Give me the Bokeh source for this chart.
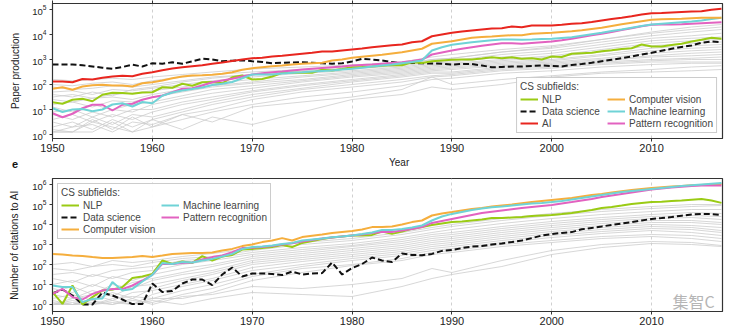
from bokeh.plotting import figure
from bokeh.models import (Range1d, FixedTicker, LogTickFormatter, LinearAxis,
                          Legend, LegendItem, Label, Div)
from bokeh.layouts import column
from bokeh.embed import file_html
from bokeh.resources import INLINE

years = list(range(1950, 2018))
decade_ticks = [1950, 1960, 1970, 1980, 1990, 2000, 2010]

# ---------------- Panel d: paper production (log10 of count) ----------------
top_ai = [2.12, 2.12, 2.09, 2.22, 2.20, 2.27, 2.32, 2.35, 2.33, 2.43,
          2.49, 2.57, 2.64, 2.69, 2.73, 2.77, 2.83, 2.88, 2.94, 3.00,
          3.05, 3.07, 3.12, 3.15, 3.19, 3.23, 3.27, 3.32, 3.32, 3.36,
          3.40, 3.44, 3.49, 3.53, 3.57, 3.60, 3.69, 3.73, 3.93, 4.00,
          4.07, 4.12, 4.16, 4.20, 4.24, 4.25, 4.32, 4.29, 4.36, 4.36,
          4.36, 4.39, 4.43, 4.45, 4.50, 4.56, 4.62, 4.67, 4.73, 4.80,
          4.85, 4.86, 4.88, 4.90, 4.92, 4.93, 4.99, 5.03]
top_cv = [1.83, 1.89, 1.79, 1.92, 1.97, 1.99, 1.96, 1.96, 1.92, 2.05,
          2.09, 2.16, 2.25, 2.32, 2.36, 2.37, 2.39, 2.43, 2.49, 2.59,
          2.65, 2.69, 2.73, 2.76, 2.80, 2.83, 2.85, 2.87, 2.96, 3.00,
          3.07, 3.11, 3.15, 3.19, 3.24, 3.29, 3.36, 3.43, 3.63, 3.68,
          3.73, 3.80, 3.87, 3.90, 3.92, 3.95, 3.97, 3.97, 4.03, 4.05,
          4.07, 4.10, 4.13, 4.17, 4.22, 4.27, 4.34, 4.41, 4.47, 4.53,
          4.59, 4.61, 4.62, 4.63, 4.65, 4.67, 4.67, 4.67]
top_ml = [1.05, 0.90, 1.00, 1.02, 0.93, 1.00, 1.20, 1.25, 1.12, 1.30,
          1.25, 1.55, 1.68, 1.76, 1.82, 1.88, 1.98, 2.03, 2.10, 2.25,
          2.40, 2.40, 2.40, 2.44, 2.47, 2.49, 2.52, 2.54, 2.56, 2.60,
          2.63, 2.67, 2.72, 2.76, 2.80, 2.85, 2.90, 2.96, 3.36, 3.49,
          3.59, 3.64, 3.69, 3.73, 3.77, 3.80, 3.80, 3.79, 3.80, 3.82,
          3.83, 3.86, 3.89, 3.95, 4.01, 4.07, 4.14, 4.20, 4.27, 4.34,
          4.40, 4.43, 4.46, 4.49, 4.52, 4.56, 4.62, 4.67]
top_pr = [0.85, 0.69, 0.83, 1.05, 1.19, 1.19, 0.96, 1.19, 1.23, 1.39,
          1.49, 1.56, 1.69, 1.83, 1.85, 1.96, 2.09, 2.16, 2.23, 2.32,
          2.40, 2.45, 2.49, 2.52, 2.56, 2.60, 2.63, 2.66, 2.69, 2.72,
          2.76, 2.78, 2.80, 2.83, 2.86, 2.89, 2.94, 3.00, 3.20, 3.28,
          3.36, 3.43, 3.49, 3.55, 3.60, 3.65, 3.65, 3.63, 3.66, 3.69,
          3.72, 3.77, 3.83, 3.90, 3.97, 4.03, 4.10, 4.18, 4.25, 4.33,
          4.39, 4.40, 4.40, 4.41, 4.43, 4.45, 4.47, 4.49]
top_nlp = [1.29, 1.23, 1.39, 1.43, 1.33, 1.59, 1.67, 1.66, 1.63, 1.68,
           1.69, 1.89, 1.87, 2.03, 1.95, 2.09, 2.10, 2.05, 2.29, 2.36,
           2.20, 2.22, 2.32, 2.47, 2.47, 2.47, 2.47, 2.59, 2.56, 2.62,
           2.69, 2.70, 2.72, 2.75, 2.78, 2.77, 2.89, 2.86, 2.93, 2.96,
           2.99, 3.00, 3.00, 3.04, 3.09, 3.05, 3.09, 3.03, 3.05, 3.00,
           3.12, 3.10, 3.23, 3.25, 3.27, 3.33, 3.37, 3.42, 3.45, 3.60,
           3.52, 3.52, 3.58, 3.63, 3.72, 3.79, 3.87, 3.83]
top_ds = [2.80, 2.80, 2.80, 2.77, 2.72, 2.67, 2.63, 2.70, 2.79, 2.72,
          2.85, 2.83, 2.89, 2.83, 2.93, 3.03, 3.00, 2.93, 2.95, 2.97,
          2.93, 2.90, 2.85, 2.87, 2.88, 2.89, 2.87, 2.85, 2.83, 2.85,
          2.92, 3.03, 3.00, 2.96, 2.90, 2.85, 2.86, 2.85, 2.84, 2.83,
          2.80, 2.82, 2.82, 2.76, 2.69, 2.70, 2.72, 2.72, 2.74, 2.76,
          2.74, 2.72, 2.78, 2.82, 2.87, 2.93, 2.99, 3.05, 3.12, 3.20,
          3.27, 3.35, 3.43, 3.50, 3.56, 3.67, 3.72, 3.69]

# other CS subfields (grey), sampled years
gray_years = [1950, 1952, 1954, 1956, 1958, 1960, 1963, 1966, 1970, 1975,
              1980, 1985, 1988, 1990, 1995, 2000, 2005, 2010, 2014, 2017]
tg01 = [2.2, 2.15, 2.2, 2.25, 2.2, 2.3, 2.4, 2.5, 2.62, 2.7, 2.78, 2.9, 3.1, 3.2, 3.4, 3.55, 3.8, 4.05, 4.2, 4.3]
tg02 = [2.0, 1.95, 2.05, 2.1, 2.0, 2.15, 2.3, 2.4, 2.5, 2.6, 2.7, 2.8, 3.0, 3.05, 3.3, 3.45, 3.7, 3.95, 4.1, 4.2]
tg03 = [1.9, 1.8, 1.85, 1.95, 1.9, 2.0, 2.15, 2.3, 2.4, 2.5, 2.62, 2.75, 2.9, 2.95, 3.2, 3.35, 3.6, 3.85, 3.95, 4.05]
tg04 = [1.7, 1.75, 1.6, 1.8, 1.75, 1.85, 2.0, 2.15, 2.3, 2.45, 2.55, 2.7, 2.85, 2.9, 3.1, 3.25, 3.5, 3.75, 3.85, 3.9]
tg05 = [1.5, 1.6, 1.45, 1.6, 1.65, 1.75, 1.9, 2.05, 2.2, 2.35, 2.5, 2.65, 2.8, 2.85, 3.0, 3.15, 3.4, 3.65, 3.75, 3.8]
tg06 = [1.4, 1.3, 1.45, 1.5, 1.4, 1.6, 1.8, 1.95, 2.1, 2.3, 2.45, 2.6, 2.75, 2.8, 2.95, 3.1, 3.3, 3.55, 3.65, 3.7]
tg07 = [1.2, 1.3, 1.1, 1.35, 1.3, 1.5, 1.7, 1.9, 2.05, 2.2, 2.4, 2.55, 2.7, 2.75, 2.9, 3.0, 3.2, 3.45, 3.55, 3.6]
tg08 = [1.1, 0.9, 1.2, 1.0, 1.2, 1.3, 1.55, 1.8, 1.95, 2.15, 2.35, 2.5, 2.65, 2.7, 2.85, 2.95, 3.15, 3.35, 3.45, 3.5]
tg09 = [0.9, 1.0, 0.7, 1.0, 0.9, 1.2, 1.45, 1.65, 1.85, 2.1, 2.3, 2.45, 2.6, 2.65, 2.8, 2.9, 3.05, 3.25, 3.35, 3.4]
tg10 = [0.8, 0.6, 0.9, 0.7, 1.0, 1.0, 1.3, 1.5, 1.75, 2.0, 2.2, 2.4, 2.55, 2.6, 2.75, 2.85, 3.0, 3.15, 3.25, 3.3]
tg11 = [0.6, 0.8, 0.5, 0.8, 0.6, 0.9, 1.2, 1.4, 1.7, 1.95, 2.15, 2.35, 2.5, 2.5, 2.7, 2.8, 2.95, 3.1, 3.15, 3.2]
tg12 = [0.5, 0.3, 0.7, 0.4, 0.8, 0.7, 1.0, 1.3, 1.6, 1.85, 2.1, 2.3, 2.45, 2.45, 2.65, 2.75, 2.9, 3.0, 3.05, 3.1]
tg13 = [0.3, 0.5, 0.2, 0.6, 0.3, 0.6, 0.9, 1.2, 1.5, 1.8, 2.0, 2.2, 2.35, 2.4, 2.6, 2.7, 2.85, 2.95, 3.0, 3.0]
tg14 = [0.1, 0.3, 0.4, 0.1, 0.5, 0.4, 0.8, 1.0, 1.4, 1.7, 1.9, 2.1, 2.3, 2.35, 2.55, 2.65, 2.8, 2.9, 2.9, 2.9]
tg15 = [0.2, 0.1, 0.5, 0.3, 0.1, 0.3, 0.6, 0.9, 1.2, 1.5, 1.7, 1.95, 2.2, 2.25, 2.45, 2.55, 2.7, 2.8, 2.85, 2.85]
tg16 = [0.1, 0.1, 0.6, 0.2, 0.7, 0.3, 0.8, 0.5, 1.1, 1.3, 1.5, 1.8, 2.3, 2.0, 2.2, 2.35, 2.5, 2.6, 2.7, 2.75]
tg17 = [0.1, 0.1, 0.1, 0.5, 0.1, 0.6, 0.2, 0.7, 0.4, 0.9, 1.4, 1.6, 1.9, 1.8, 2.0, 2.3, 2.45, 2.5, 2.55, 2.6]
tg18 = [1.6, 1.5, 1.7, 1.55, 1.8, 1.9, 2.1, 2.25, 2.4, 2.55, 2.65, 2.8, 3.0, 3.05, 3.3, 3.5, 3.8, 4.1, 4.3, 4.4]
top_gray = [tg01, tg02, tg03, tg04, tg05, tg06, tg07, tg08, tg09,
            tg10, tg11, tg12, tg13, tg14, tg15, tg16, tg17, tg18]

# ---------------- Panel e: citations to AI (log10 of count) ----------------
bot_cv = [2.53, 2.50, 2.45, 2.42, 2.37, 2.33, 2.32, 2.35, 2.37, 2.42,
          2.38, 2.45, 2.53, 2.55, 2.57, 2.58, 2.60, 2.70, 2.78, 2.92,
          3.00, 3.12, 3.20, 3.32, 3.20, 3.37, 3.44, 3.50, 3.57, 3.62,
          3.67, 3.75, 3.87, 3.87, 3.90, 4.00, 4.12, 4.20, 4.45, 4.55,
          4.62, 4.70, 4.78, 4.83, 4.90, 4.95, 5.00, 5.06, 5.12, 5.18,
          5.23, 5.28, 5.33, 5.40, 5.47, 5.53, 5.60, 5.66, 5.72, 5.77,
          5.82, 5.86, 5.90, 5.93, 5.96, 5.98, 6.00, 6.03]
bot_ml = [0.95, 0.87, 0.87, 0.12, 0.28, 0.30, 1.12, 0.70, 0.78, 1.15,
          1.48, 2.07, 2.03, 2.12, 2.10, 2.20, 2.28, 2.40, 2.53, 2.78,
          2.87, 2.90, 2.95, 3.02, 3.08, 3.20, 3.25, 3.30, 3.36, 3.40,
          3.45, 3.52, 3.60, 3.73, 3.72, 3.78, 3.85, 3.95, 4.20, 4.40,
          4.53, 4.63, 4.73, 4.80, 4.86, 4.90, 4.95, 5.00, 5.05, 5.08,
          5.12, 5.18, 5.25, 5.33, 5.40, 5.48, 5.55, 5.62, 5.68, 5.73,
          5.78, 5.83, 5.88, 5.92, 5.96, 6.00, 6.04, 6.08]
bot_pr = [0.53, 0.78, 0.37, 0.25, 0.53, 0.70, 0.78, 0.77, 0.95, 1.20,
          1.48, 2.03, 2.03, 2.08, 2.10, 2.25, 2.37, 2.45, 2.62, 2.82,
          2.84, 2.88, 2.93, 3.00, 3.06, 3.15, 3.22, 3.30, 3.35, 3.40,
          3.45, 3.50, 3.57, 3.62, 3.63, 3.70, 3.78, 3.87, 4.08, 4.18,
          4.28, 4.38, 4.48, 4.57, 4.64, 4.70, 4.76, 4.82, 4.88, 4.93,
          4.98, 5.05, 5.12, 5.20, 5.28, 5.37, 5.45, 5.53, 5.60, 5.68,
          5.75, 5.80, 5.85, 5.89, 5.92, 5.95, 5.95, 5.95]
bot_nlp = [0.62, 0.03, 0.95, 0.00, 0.37, 0.70, 0.75, 0.87, 1.32, 1.40,
           1.53, 2.20, 2.03, 2.15, 2.08, 2.42, 2.20, 2.40, 2.48, 2.75,
           2.78, 2.82, 2.87, 2.98, 2.87, 3.08, 3.18, 3.28, 3.35, 3.40,
           3.45, 3.45, 3.48, 3.65, 3.53, 3.65, 3.78, 3.88, 3.98, 4.05,
           4.12, 4.15, 4.20, 4.25, 4.32, 4.32, 4.35, 4.38, 4.42, 4.45,
           4.48, 4.52, 4.58, 4.65, 4.72, 4.82, 4.88, 4.95, 5.03, 5.08,
           5.12, 5.14, 5.17, 5.20, 5.24, 5.28, 5.20, 5.08]
bot_ds = [0.55, 0.75, 0.45, 0.00, 0.00, 0.60, 0.45, 0.25, 0.02, 0.02,
          1.05, 0.62, 0.68, 1.05, 1.25, 1.25, 0.97, 1.50, 1.85, 1.40,
          1.55, 1.55, 1.53, 1.47, 1.65, 1.50, 1.55, 1.57, 2.10, 1.50,
          1.82, 2.02, 2.35, 2.20, 2.12, 2.55, 2.48, 2.46, 2.53, 2.68,
          2.72, 2.82, 2.90, 2.92, 3.00, 3.05, 3.12, 3.20, 3.32, 3.45,
          3.52, 3.58, 3.62, 3.76, 3.83, 3.90, 3.98, 4.05, 4.12, 4.20,
          4.28, 4.32, 4.37, 4.44, 4.50, 4.53, 4.52, 4.48]

bg01 = [1.8, 1.7, 1.9, 2.0, 1.9, 2.1, 2.3, 2.4, 2.7, 3.0, 3.2, 3.5, 3.75, 3.9, 4.2, 4.45, 4.65, 4.8, 4.9, 4.95]
bg02 = [1.5, 1.6, 1.4, 1.7, 1.8, 1.9, 2.2, 2.3, 2.6, 2.85, 3.05, 3.35, 3.6, 3.75, 4.05, 4.3, 4.5, 4.65, 4.75, 4.75]
bg03 = [1.3, 1.1, 1.5, 1.3, 1.6, 1.7, 2.0, 2.2, 2.5, 2.75, 2.95, 3.25, 3.5, 3.6, 3.9, 4.15, 4.35, 4.5, 4.6, 4.55]
bg04 = [1.0, 1.2, 0.9, 1.4, 1.2, 1.5, 1.8, 2.0, 2.4, 2.65, 2.9, 3.15, 3.4, 3.5, 3.8, 4.05, 4.25, 4.4, 4.45, 4.4]
bg05 = [0.8, 0.6, 1.0, 0.7, 1.1, 1.3, 1.6, 1.9, 2.3, 2.55, 2.8, 3.05, 3.3, 3.4, 3.7, 3.95, 4.15, 4.3, 4.35, 4.25]
bg06 = [0.6, 0.9, 0.5, 1.0, 0.8, 1.2, 1.5, 1.7, 2.2, 2.45, 2.7, 2.95, 3.2, 3.3, 3.6, 3.85, 4.05, 4.2, 4.2, 4.1]
bg07 = [0.5, 0.3, 0.7, 0.4, 0.9, 1.0, 1.3, 1.6, 2.1, 2.35, 2.6, 2.85, 3.1, 3.2, 3.5, 3.75, 3.95, 4.1, 4.1, 4.0]
bg08 = [0.3, 0.5, 0.2, 0.6, 0.3, 0.8, 1.2, 1.5, 2.0, 2.25, 2.5, 2.75, 3.0, 3.1, 3.4, 3.65, 3.85, 4.0, 3.95, 3.85]
bg09 = [0.0, 0.3, 0.5, 0.2, 0.6, 0.7, 1.0, 1.3, 1.85, 2.15, 2.4, 2.65, 2.9, 3.0, 3.3, 3.55, 3.75, 3.9, 3.85, 3.7]
bg10 = [0.2, 0.0, 0.3, 0.5, 0.0, 0.5, 0.9, 1.2, 1.7, 2.0, 2.3, 2.55, 2.8, 2.9, 3.2, 3.45, 3.65, 3.8, 3.75, 3.6]
bg11 = [0.0, 0.2, 0.0, 0.3, 0.4, 0.3, 0.7, 1.0, 1.5, 1.9, 2.2, 2.45, 2.7, 2.8, 3.1, 3.35, 3.55, 3.7, 3.6, 3.45]
bg12 = [0.1, 0.0, 0.2, 0.0, 0.2, 0.1, 0.5, 0.8, 1.4, 1.8, 2.0, 2.3, 2.6, 2.7, 3.0, 3.2, 3.4, 3.5, 3.45, 3.3]
bg13 = [0.0, 0.1, 0.0, 0.2, 0.0, 0.3, 0.3, 0.6, 1.2, 1.6, 1.95, 2.2, 2.5, 2.6, 2.9, 3.1, 3.3, 3.4, 3.3, 3.15]
bg14 = [0.0, 0.0, 0.1, 0.0, 0.3, 0.0, 0.4, 0.5, 0.9, 0.8, 1.0, 1.3, 1.8, 1.6, 2.2, 2.7, 3.0, 3.15, 3.1, 2.95]
bg15 = [0.0, 0.0, 0.0, 0.1, 0.0, 0.2, 0.0, 0.3, 0.6, 0.5, 0.4, 0.9, 1.3, 1.5, 1.9, 2.5, 2.85, 3.05, 3.0, 2.9]
bg16 = [2.0, 2.1, 1.9, 2.2, 2.1, 2.2, 2.4, 2.55, 2.8, 3.1, 3.3, 3.6, 3.85, 4.0, 4.3, 4.55, 4.75, 4.9, 5.0, 5.0]
bot_gray = [bg01, bg02, bg03, bg04, bg05, bg06, bg07, bg08,
            bg09, bg10, bg11, bg12, bg13, bg14, bg15, bg16]

C_NLP = "#9acb14"
C_DS = "#111111"
C_AI = "#e8261f"
C_CV = "#f5ae3d"
C_ML = "#6fd3d6"
C_PR = "#e262c0"
C_GRAY = "#cdcdcd"
FONT = "Liberation Sans"


def pw(vals):
    return [10 ** v for v in vals]


def base_fig(height, y_lo, y_hi, y_ticks, ylabel, mb_top, mb_bottom, mb_left, mb_right):
    p = figure(width=750, height=height, x_range=Range1d(1950, 2017.1),
               y_range=Range1d(y_lo, y_hi), y_axis_type="log",
               output_backend="svg", toolbar_location=None,
               min_border_top=mb_top, min_border_bottom=mb_bottom,
               min_border_left=mb_left, min_border_right=mb_right)
    p.outline_line_color = "#333333"
    p.outline_line_width = 1.2
    p.background_fill_color = "white"
    p.xaxis.ticker = FixedTicker(ticks=decade_ticks)
    p.yaxis.ticker = FixedTicker(ticks=y_ticks)
    p.yaxis.formatter = LogTickFormatter()
    for ax in (p.xaxis[0], p.yaxis[0]):
        ax.axis_line_color = "#333333"
        ax.major_tick_line_color = "#333333"
        ax.major_tick_out = 3
        ax.major_tick_in = 0
        ax.minor_tick_line_color = None
        ax.major_label_text_font = FONT
        ax.major_label_text_color = "#222222"
        ax.axis_label_text_font = FONT
        ax.axis_label_text_font_style = "normal"
        ax.axis_label_text_font_size = "10px"
        ax.axis_label_text_color = "#222222"
    p.xaxis.major_label_text_font_size = "11px"
    p.xaxis.major_label_standoff = 2
    p.yaxis.major_label_text_font_size = "9.5px"
    p.yaxis.major_label_standoff = 3
    p.yaxis.axis_label = ylabel
    p.yaxis.axis_label_standoff = 8
    p.xgrid.ticker = FixedTicker(ticks=decade_ticks)
    p.xgrid.grid_line_color = "#d0d0d0"
    p.xgrid.grid_line_dash = "3 3"
    p.ygrid.grid_line_color = None
    return p


def style_legend(lg, label_width, location):
    lg.location = location
    lg.title = "CS subfields:"
    lg.title_text_font = FONT
    lg.title_text_font_size = "10px"
    lg.title_text_font_style = "normal"
    lg.title_standoff = 1
    lg.label_text_font = FONT
    lg.label_text_font_size = "10px"
    lg.label_height = 12
    lg.glyph_height = 12
    lg.glyph_width = 18
    lg.label_standoff = 4
    lg.label_width = label_width
    lg.spacing = 0
    lg.padding = 3
    lg.margin = 5
    lg.nrows = 3
    lg.orientation = "vertical"
    lg.border_line_color = "#9a9a9a"
    lg.background_fill_alpha = 0.95


# ---------------- top figure ----------------
p1 = base_fig(157, 10 ** -0.16, 10 ** 5.24, [1, 10, 100, 1e3, 1e4, 1e5],
              "Paper production", 3, 19, 50, 26)
top_ax = LinearAxis(ticker=FixedTicker(ticks=decade_ticks), major_label_text_font_size="1px",
                    major_label_text_color=None,
                    major_tick_out=3, major_tick_in=0, major_label_standoff=0,
                    axis_line_color="#333333", major_tick_line_color="#333333",
                    minor_tick_line_color=None)
p1.add_layout(top_ax, "above")

for g in top_gray:
    p1.line(gray_years, pw(g), line_color=C_GRAY, line_width=1, line_alpha=0.8)

r_ds = p1.line(years, pw(top_ds), line_color=C_DS, line_width=2, line_dash="6 3")
r_nlp = p1.line(years, pw(top_nlp), line_color=C_NLP, line_width=2)
r_pr = p1.line(years, pw(top_pr), line_color=C_PR, line_width=2)
r_ml = p1.line(years, pw(top_ml), line_color=C_ML, line_width=2)
r_cv = p1.line(years, pw(top_cv), line_color=C_CV, line_width=2)
r_ai = p1.line(years, pw(top_ai), line_color=C_AI, line_width=2)

lg1 = Legend(items=[LegendItem(label="NLP", renderers=[r_nlp]),
                    LegendItem(label="Data science", renderers=[r_ds]),
                    LegendItem(label="AI", renderers=[r_ai]),
                    LegendItem(label="Computer vision", renderers=[r_cv]),
                    LegendItem(label="Machine learning", renderers=[r_ml]),
                    LegendItem(label="Pattern recognition", renderers=[r_pr])])
style_legend(lg1, 65, "bottom_right")
p1.add_layout(lg1)

# ---------------- strip between the panels: x title of d and panel letter e ----------------
strip = Div(text=(
    '<div style="position:relative;width:750px;height:13px;overflow:visible;'
    'font-family:\'Liberation Sans\',Arial,sans-serif;color:#222222;">'
    '<span style="position:absolute;left:389px;top:-1px;font-size:10px;line-height:13px;'
    'white-space:nowrap;">Year</span>'
    '<span style="position:absolute;left:12px;top:1px;font-size:11px;font-weight:bold;'
    'line-height:13px;color:#111111;">e</span>'
    '</div>'), width=750, height=13, margin=(0, 0, 0, 0))

# ---------------- bottom figure ----------------
p2 = base_fig(162, 10 ** -0.35, 10 ** 6.3, [1, 10, 100, 1e3, 1e4, 1e5, 1e6],
              "Number of citations to AI", 8, 21, 52, 28)
p2.yaxis.axis_label_standoff = 9

for g in bot_gray:
    p2.line(gray_years, pw(g), line_color=C_GRAY, line_width=1, line_alpha=0.8)

q_ds = p2.line(years, pw(bot_ds), line_color=C_DS, line_width=2, line_dash="6 3")
q_nlp = p2.line(years, pw(bot_nlp), line_color=C_NLP, line_width=2)
q_cv = p2.line(years, pw(bot_cv), line_color=C_CV, line_width=2)
q_pr = p2.line(years, pw(bot_pr), line_color=C_PR, line_width=2)
q_ml = p2.line(years, pw(bot_ml), line_color=C_ML, line_width=2)

lg2 = Legend(items=[LegendItem(label="NLP", renderers=[q_nlp]),
                    LegendItem(label="Data science", renderers=[q_ds]),
                    LegendItem(label="Computer vision", renderers=[q_cv]),
                    LegendItem(label="Machine learning", renderers=[q_ml]),
                    LegendItem(label="Pattern recognition", renderers=[q_pr])])
style_legend(lg2, 78, "top_left")
p2.add_layout(lg2)

p2.add_layout(Label(x=2012.1, y=10 ** 0.2, text="集智C", text_font="Noto Sans CJK SC",
                    text_font_size="16px", text_align="left", text_baseline="middle",
                    text_color="#b5b5b5"))

layout = column(p1, strip, p2, spacing=0)
open("out.html", "w").write(file_html(layout, INLINE))
